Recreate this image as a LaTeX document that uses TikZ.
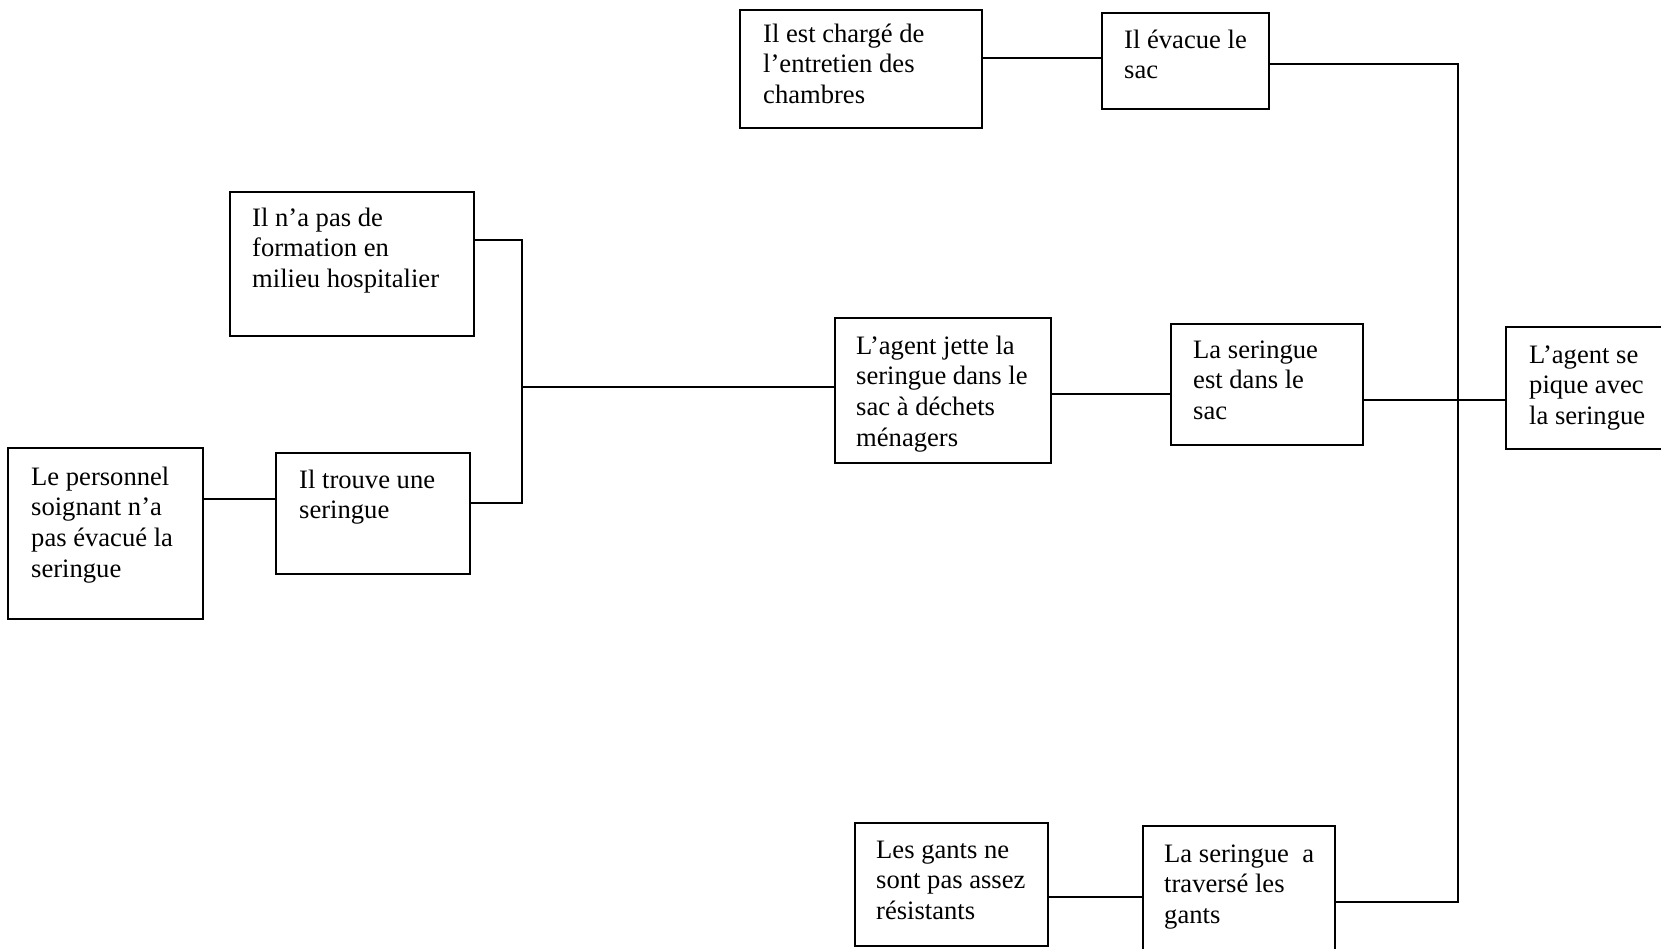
\documentclass[tikz,border=0pt]{standalone}
\usepackage{fontspec}
\setmainfont{Liberation Serif}
\tikzset{
  box/.style={draw=black, line width=1.6pt, anchor=north west, inner sep=0pt, outer sep=0pt},
  txt/.style={anchor=base west, inner sep=0pt, font=\fontsize{26.6pt}{30.7pt}\selectfont},
  conn/.style={draw=black, line width=1.5pt},
}
\newcommand{\lines}[1]{\begin{tabular}[t]{@{}l@{}}#1\end{tabular}}
\begin{document}
\begin{tikzpicture}[x=1pt,y=-1pt]
\clip (0,0) rectangle (1661,948);
\fill[white] (0,0) rectangle (1661,948);
% boxes
\node[box, minimum width=242pt, minimum height=118pt] (A) at (740,10) {};
\node[box, minimum width=167pt, minimum height=96pt]  (B) at (1102,13) {};
\node[box, minimum width=244pt, minimum height=144pt] (C) at (230,192) {};
\node[box, minimum width=195pt, minimum height=171pt] (D) at (8,448) {};
\node[box, minimum width=194pt, minimum height=121pt] (E) at (276,453) {};
\node[box, minimum width=216pt, minimum height=145pt] (F) at (835,318) {};
\node[box, minimum width=192pt, minimum height=121pt] (G) at (1171,324) {};
\node[box, minimum width=180pt, minimum height=122pt] (H) at (1506,327) {};
\node[box, minimum width=193pt, minimum height=123pt] (I) at (855,823) {};
\node[box, minimum width=192pt, minimum height=135pt] (J) at (1143,826) {};
% texts
\node[txt] (tA) at ([shift={(23,32)}]A.north west) {\lines{Il est chargé de\\l’entretien des\\chambres}};
\node[txt] (tB) at ([shift={(22,35)}]B.north west) {\lines{Il évacue le\\sac}};
\node[txt] (tC) at ([shift={(22,34)}]C.north west) {\lines{Il n’a pas de\\formation en\\milieu hospitalier}};
\node[txt] (tD) at ([shift={(23,37)}]D.north west) {\lines{Le personnel\\soignant n’a\\pas évacué la\\seringue}};
\node[txt] (tE) at ([shift={(23,35)}]E.north west) {\lines{Il trouve une\\seringue}};
\node[txt] (tF) at ([shift={(21,36)}]F.north west) {\lines{L’agent jette la\\seringue dans le\\sac à déchets\\ménagers}};
\node[txt] (tG) at ([shift={(22,34)}]G.north west) {\lines{La seringue\\est dans le\\sac}};
\node[txt] (tH) at ([shift={(23,36)}]H.north west) {\lines{L’agent se\\pique avec\\la seringue}};
\node[txt] (tI) at ([shift={(21,35)}]I.north west) {\lines{Les gants ne\\sont pas assez\\résistants}};
\node[txt] (tJ) at ([shift={(21,36)}]J.north west) {\lines{La seringue~ a\\traversé les\\gants}};
% junctions
\coordinate (j1) at (522,387);
\coordinate (j2) at (1458,400);
% connectors
\draw[conn] (A.east |- 0,58) -- (B.west |- 0,58);
\draw[conn] (B.east |- 0,64) -| (j2);
\draw[conn] (G.east |- j2) -- (H.west |- j2);
\draw[conn] (J.east |- 0,902) -| (j2);
\draw[conn] (I.east |- 0,897) -- (J.west |- 0,897);
\draw[conn] (F.east |- 0,394) -- (G.west |- 0,394);
\draw[conn] (C.east |- 0,240) -| (j1) |- (E.east |- 0,503);
\draw[conn] (j1) -- (F.west |- j1);
\draw[conn] (D.east |- 0,499) -- (E.west |- 0,499);
\end{tikzpicture}
\end{document}
